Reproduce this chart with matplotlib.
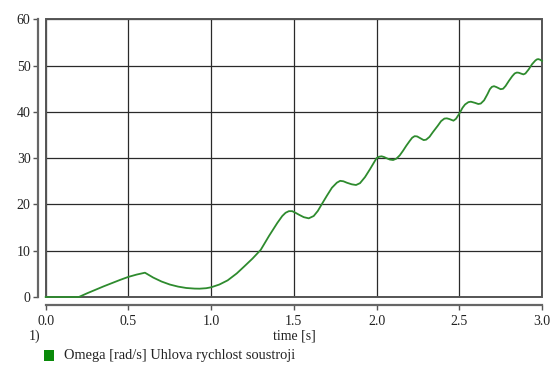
import matplotlib
matplotlib.use("Agg")
import matplotlib.pyplot as plt
from matplotlib.patches import Rectangle

plt.rcParams['font.family'] = ['Liberation Serif', 'DejaVu Serif']

t = [0.0, 0.2, 0.25, 0.3, 0.35, 0.4, 0.45, 0.5, 0.55, 0.6,
     0.65, 0.7, 0.75, 0.8, 0.85, 0.9, 0.93, 0.97, 1.0, 1.05, 1.1, 1.155,
     1.2, 1.25, 1.3, 1.35, 1.4, 1.43, 1.45, 1.47, 1.49, 1.51, 1.53, 1.56, 1.59,
     1.62, 1.645, 1.668, 1.7, 1.73, 1.76, 1.78, 1.8, 1.82, 1.85, 1.876, 1.9, 1.93, 1.96,
     1.98, 2.0, 2.015, 2.03, 2.045, 2.06, 2.08, 2.1, 2.12, 2.14, 2.16, 2.18, 2.2, 2.215,
     2.23, 2.245, 2.26, 2.285, 2.3, 2.32,
     2.34, 2.37, 2.39, 2.41, 2.425, 2.44, 2.465, 2.48, 2.5, 2.52, 2.535, 2.555, 2.57,
     2.595, 2.615, 2.63,
     2.65, 2.67, 2.685, 2.697, 2.71, 2.725, 2.75, 2.765, 2.78, 2.8, 2.82, 2.835, 2.848,
     2.86, 2.875, 2.888, 2.9,
     2.92, 2.94, 2.96, 2.97, 2.978, 2.99, 3.0]
omega = [0.0, 0.0, 0.8, 1.55, 2.3, 3.0, 3.7, 4.35, 4.85, 5.25,
         4.2, 3.35, 2.7, 2.25, 1.95, 1.82, 1.8, 1.9, 2.1, 2.7, 3.6, 5.1,
         6.6, 8.3, 10.2, 13.2, 16.0, 17.5, 18.2, 18.55, 18.55, 18.2, 17.8, 17.25, 17.0,
         17.5, 18.6, 20.0, 21.9, 23.6, 24.7, 25.1, 25.0, 24.7, 24.35, 24.2, 24.6, 25.9, 27.6,
         28.8, 30.0, 30.3, 30.4, 30.25, 30.0, 29.7, 29.6, 29.9, 30.6, 31.6, 32.7, 33.7, 34.4,
         34.75, 34.7, 34.4, 33.9, 34.0, 34.6,
         35.6, 37.0, 38.0, 38.55, 38.6, 38.45, 38.1, 38.5, 39.6, 40.9, 41.6, 42.1, 42.2,
         41.95, 41.7, 41.8,
         42.5, 43.8, 44.9, 45.4, 45.55, 45.35, 44.9, 45.0, 45.6, 46.7, 47.7, 48.3, 48.5,
         48.45, 48.25, 48.1, 48.3,
         49.2, 50.3, 51.1, 51.35, 51.4, 51.25, 51.0]

xticks = [0.0, 0.5, 1.0, 1.5, 2.0, 2.5, 3.0]
xticklabels = ['0.0', '0.5', '1.0', '1.5', '2.0', '2.5', '3.0']
yticks = [0, 10, 20, 30, 40, 50, 60]
yticklabels = ['0', '10', '20', '30', '40', '50', '60']
xlabel = 'time [s]'
legend_label = 'Omega [rad/s] Uhlova rychlost soustroji'
line_color = '#2e8b2e'

fig = plt.figure(figsize=(5.58, 3.67), dpi=100)
ax = fig.add_axes([0.0819, 0.1907, 0.8894, 0.7567])

ax.plot(t, omega, color=line_color, lw=1.3, zorder=3, clip_on=False,
        solid_joinstyle='round')
ax.set_xlim(0, 3.0)
ax.set_ylim(0, 60)
ax.set_xticks(xticks)
ax.set_xticklabels(xticklabels)
ax.set_yticks(yticks)
ax.set_yticklabels(yticklabels)
ax.grid(True, color='#2a2a2a', lw=0.9)
ax.set_axisbelow(True)

# frame
ax.add_patch(Rectangle((0, 0), 1, 1, transform=ax.transAxes, fill=False,
                       edgecolor='#555555', lw=1.4, zorder=2, clip_on=False))

for s in ['top', 'right']:
    ax.spines[s].set_visible(False)
ax.spines['left'].set_position(('outward', 5.6))
ax.spines['bottom'].set_position(('outward', 5.8))
for s in ['left', 'bottom']:
    ax.spines[s].set_color('#666666')
    ax.spines[s].set_linewidth(1.6)
ax.tick_params(axis='both', direction='out', length=3.8, width=1.0,
               color='#555555', labelsize=10, labelcolor='#222222', pad=1.5)
ax.tick_params(axis='x', pad=3)

fig.text(0.5270, 0.0845, xlabel, ha='center', va='center',
         fontsize=10, color='#222222')
fig.text(0.052, 0.0845, '1)', ha='left', va='center', fontsize=10, color='#222222')
fig.add_artist(Rectangle((44.3 / 558, 1 - 361 / 367), 10 / 558, 11.5 / 367,
                         transform=fig.transFigure, facecolor='#0a8a0a',
                         edgecolor='none'))
fig.text(64 / 558, 1 - 355 / 367, legend_label, ha='left', va='center',
         fontsize=10.4, color='#222222')

fig.savefig('out.png', dpi=100)
